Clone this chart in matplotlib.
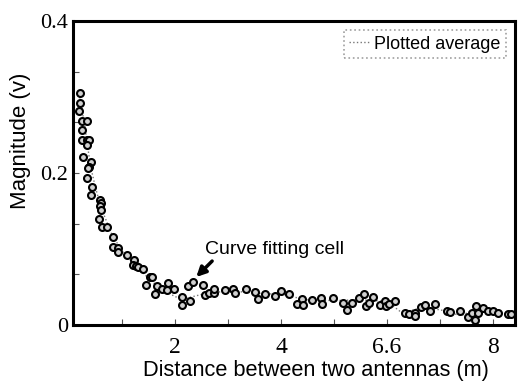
import numpy as np
import matplotlib.pyplot as plt
from matplotlib.ticker import FixedLocator

# measured points (distance in m, magnitude in V)
dist = [0.21, 0.21, 0.19, 0.24, 0.34, 0.24, 0.24, 0.33, 0.38, 0.33, 0.26,
        0.42, 0.38, 0.36, 0.33, 0.43, 0.41, 0.59, 0.60, 0.59, 0.60, 0.57,
        0.62, 0.71, 0.82, 0.82, 0.92, 0.93, 1.09, 1.22, 1.20, 1.27, 1.30,
        1.40, 1.52, 1.56, 1.45, 1.65, 1.62, 1.75, 1.84, 1.98, 1.87, 2.13,
        2.13, 2.28, 2.25, 2.33, 2.52, 2.57, 2.65, 2.74, 2.74, 2.94, 3.10,
        3.13, 3.33, 3.51, 3.57, 3.70, 3.89, 4.00, 4.16, 4.30, 4.39, 4.41,
        4.59, 4.75, 4.78, 4.99, 5.18, 5.24, 5.35, 5.47, 5.57, 5.60, 5.67,
        5.74, 5.87, 5.96, 5.98, 6.03, 6.15, 6.34, 6.42, 6.53, 6.53, 6.65,
        6.72, 6.81, 6.91, 7.13, 7.19, 7.38, 7.53, 7.60, 7.66, 7.69, 7.72,
        7.82, 7.91, 8.00, 8.10, 8.29, 8.35]
magn = [0.305, 0.292, 0.281, 0.269, 0.269, 0.257, 0.243, 0.243, 0.243, 0.237,
        0.221, 0.215, 0.208, 0.207, 0.194, 0.182, 0.171, 0.164, 0.160, 0.157,
        0.151, 0.139, 0.129, 0.129, 0.116, 0.103, 0.101, 0.096, 0.092, 0.085,
        0.079, 0.078, 0.076, 0.073, 0.063, 0.063, 0.053, 0.051, 0.041, 0.047,
        0.046, 0.047, 0.055, 0.037, 0.026, 0.031, 0.051, 0.057, 0.053, 0.039,
        0.042, 0.042, 0.047, 0.046, 0.047, 0.042, 0.047, 0.043, 0.034, 0.041,
        0.038, 0.044, 0.040, 0.028, 0.034, 0.026, 0.033, 0.035, 0.028, 0.035,
        0.029, 0.020, 0.029, 0.035, 0.041, 0.025, 0.029, 0.037, 0.026, 0.031,
        0.025, 0.028, 0.031, 0.015, 0.014, 0.015, 0.012, 0.023, 0.026, 0.018,
        0.027, 0.018, 0.017, 0.018, 0.011, 0.015, 0.007, 0.025, 0.015, 0.022,
        0.018, 0.018, 0.015, 0.014, 0.014]

# plotted average curve
avg_x = [0.2, 0.3, 0.4, 0.5, 0.6, 0.8, 1.0, 1.2, 1.4, 1.6, 1.8, 2.0, 2.2,
         2.5, 3.0, 3.5, 4.0, 4.5, 5.0, 5.5, 6.0, 6.3, 6.6, 7.0, 7.4, 7.7,
         8.0, 8.4]
avg_y = [0.30, 0.26, 0.21, 0.18, 0.155, 0.12, 0.097, 0.082, 0.068, 0.055,
         0.046, 0.037, 0.035, 0.040, 0.045, 0.042, 0.040, 0.033, 0.032,
         0.033, 0.031, 0.015, 0.022, 0.020, 0.012, 0.022, 0.016, 0.014]

xticks = [2, 4, 6, 8]
xticklabels = ['2', '4', '6.6', '8']
yticks = [0, 0.2, 0.4]
yticklabels = ['0', '0.2', '0.4']

fig = plt.figure(figsize=(5.24, 3.9), dpi=100)
ax = fig.add_axes([0.139, 0.167, 0.844, 0.779])

ax.plot(avg_x, avg_y, linestyle=':', color='#777777', linewidth=1.0,
        label='Plotted average')
ax.plot(dist, magn, linestyle='none', marker='o', markersize=5,
        markerfacecolor='#d0d0d0', markeredgecolor='black',
        markeredgewidth=1.5)

ax.set_xlim(0.07, 8.42)
ax.set_ylim(0, 0.4)

ax.set_xticks(xticks)
ax.set_xticklabels(xticklabels, family='Liberation Serif', fontsize=17)
ax.xaxis.set_minor_locator(FixedLocator([1, 3, 5, 7]))
ax.set_yticks(yticks)
ax.set_yticklabels(yticklabels, family='Liberation Serif', fontsize=16)
ax.yaxis.set_minor_locator(FixedLocator(np.arange(1, 6) * 0.4 / 6))
ax.tick_params(which='both', direction='in', length=4, width=0.8,
               color='#555555')
ax.tick_params(axis='x', pad=9)

for s in ax.spines.values():
    s.set_linewidth(2.2)

ax.set_xlabel('Distance between two antennas (m)', family='Liberation Sans',
              fontsize=15.7, labelpad=1)
ax.xaxis.set_label_coords(0.55, -0.115)
ax.set_ylabel('Magnitude (v)', family='Liberation Sans', fontsize=16)
ax.yaxis.set_label_coords(-0.095, 0.605)

ax.text(2.57, 0.099, 'Curve fitting cell', fontsize=14,
        family='Liberation Sans', va='center')
ax.annotate('', xy=(2.40, 0.063), xytext=(2.70, 0.084),
            arrowprops=dict(arrowstyle='-|>', color='black', lw=2.5,
                            shrinkA=0, shrinkB=0, mutation_scale=14))

leg = ax.legend(loc='upper right', handlelength=1.2, handletextpad=0.2,
                fancybox=False, borderpad=0.3, borderaxespad=0.5,
                prop={'family': 'Liberation Sans', 'size': 13})
leg.get_frame().set_edgecolor('#888888')
leg.get_frame().set_linestyle(':')
leg.get_frame().set_linewidth(1.2)

fig.savefig('out.png', dpi=100)
